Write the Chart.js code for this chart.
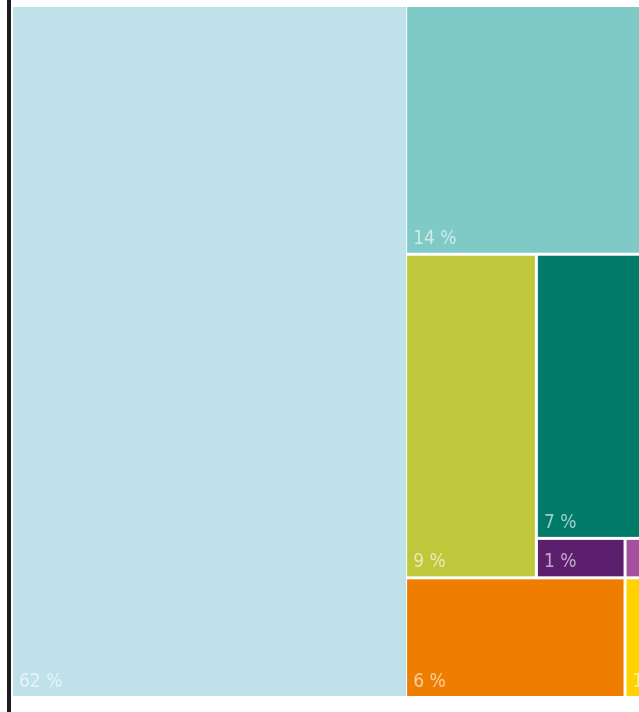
<!DOCTYPE html>
<html>
<head>
<meta charset="utf-8">
<script src="https://cdn.jsdelivr.net/npm/chart.js@4/dist/chart.umd.min.js"></script>
<style>
  html, body { margin: 0; padding: 0; background: #ffffff; }
  #wrap { width: 639px; height: 712px; position: relative; }
</style>
</head>
<body>
<div id="wrap"><canvas id="c" width="639" height="712"></canvas></div>
<script>
// Treemap cells (shares in %)
const cellNames  = ['A', 'B', 'C', 'D', 'E', 'F', 'G', 'H'];
const cellValues = [62, 13.6, 9.6, 7.2, 0.8, 0.2, 5.9, 0.6];
const cellLabels = ['62 %', '14 %', '9 %', '7 %', '1 %', '', '6 %', '1 %'];
const cellColors = ['#bfe1ea', '#7fc9c6', '#bec83a', '#007b69', '#5c1f6e', '#a3509d', '#ee7d00', '#ffd200'];

// slice-and-dice layout in unit coordinates, derived from values
function layout(v) {
  const total = v.reduce((a, b) => a + b, 0);
  const rects = [];
  const w1 = v[0] / total;
  rects[0] = { x0: 0, x1: w1, y0: 0, y1: 1 };
  const rest = total - v[0];
  const midSum = v[2] + v[3] + v[4] + v[5];
  const botSum = v[6] + v[7];
  const hB = v[1] / rest, hM = midSum / rest;
  rects[1] = { x0: w1, x1: 1, y0: 0, y1: hB };
  const w2 = 1 - w1;
  const xC = w1 + w2 * v[2] / midSum;
  rects[2] = { x0: w1, x1: xC, y0: hB, y1: hB + hM };
  const rSum = v[3] + v[4] + v[5];
  const yD = hB + hM * v[3] / rSum;
  rects[3] = { x0: xC, x1: 1, y0: hB, y1: yD };
  const xE = xC + (1 - xC) * v[4] / (v[4] + v[5]);
  rects[4] = { x0: xC, x1: xE, y0: yD, y1: hB + hM };
  rects[5] = { x0: xE, x1: 1, y0: yD, y1: hB + hM };
  const xG = w1 + w2 * v[6] / botSum;
  rects[6] = { x0: w1, x1: xG, y0: hB + hM, y1: 1 };
  rects[7] = { x0: xG, x1: 1, y0: hB + hM, y1: 1 };
  return rects;
}
const cells = layout(cellValues);

const frameLine = {
  id: 'frameLine',
  beforeDraw(chart) {
    const ctx = chart.ctx;
    ctx.save();
    ctx.fillStyle = '#1c1c1c';
    ctx.fillRect(7, 0, 4, chart.height);
    ctx.restore();
  }
};

const treemapCells = {
  id: 'treemapCells',
  afterDatasetsDraw(chart) {
    const ctx = chart.ctx, xs = chart.scales.x, ys = chart.scales.y;
    const ca = chart.chartArea;
    ctx.save();
    ctx.beginPath();
    ctx.rect(ca.left, 0, chart.width - ca.left, chart.height);
    ctx.clip();
    const gap = 1.5;
    const w1 = cells[0].x1;
    cells.forEach((r, i) => {
      const L = xs.getPixelForValue(r.x0), R = xs.getPixelForValue(r.x1);
      const T = ys.getPixelForValue(r.y0), B = ys.getPixelForValue(r.y1);
      const l = L + (r.x0 > 0 ? (r.x0 === w1 ? 0.5 : gap) : 0);
      const rr = R - (i === 0 ? 0.5 : gap);
      const t = T + (r.y0 > 0 ? gap : 0), b = B - (r.y1 < 1 ? gap : 0);
      ctx.fillStyle = cellColors[i];
      ctx.fillRect(l, t, rr - l, b - t);
      if (cellLabels[i]) {
        ctx.fillStyle = 'rgba(255,255,255,0.62)';
        ctx.font = '19px "Liberation Sans Narrow", "DejaVu Sans Condensed", "Roboto Condensed", sans-serif';
        ctx.textBaseline = 'alphabetic';
        ctx.textAlign = 'left';
        ctx.fillText(cellLabels[i], l + 6, b - 9);
      }
    });
    ctx.restore();
  }
};

new Chart(document.getElementById('c'), {
  type: 'scatter',
  data: {
    datasets: [{
      label: 'cells',
      data: cells.map(r => ({ x: (r.x0 + r.x1) / 2, y: (r.y0 + r.y1) / 2 })),
      pointRadius: 0,
      pointHoverRadius: 0
    }]
  },
  options: {
    responsive: false,
    animation: false,
    events: [],
    layout: { padding: { left: 13, right: 0, top: 7, bottom: 16 } },
    plugins: { legend: { display: false }, tooltip: { enabled: false } },
    scales: {
      x: { type: 'linear', display: false, min: 0, max: 0.987 },
      y: { type: 'linear', display: false, min: 0, max: 1, reverse: true }
    }
  },
  plugins: [frameLine, treemapCells]
});
</script>
</body>
</html>
